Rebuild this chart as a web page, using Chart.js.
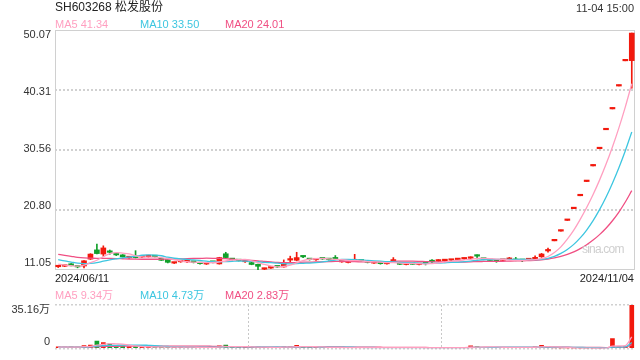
<!DOCTYPE html>
<html>
<head>
<meta charset="utf-8">
<script src="https://cdn.jsdelivr.net/npm/chart.js@4.4.1/dist/chart.umd.min.js"></script>
<style>
  body { margin: 0; width: 640px; height: 360px; background: #fff; position: relative; overflow: hidden;
         font-family: "Liberation Sans", Arial, "Noto Sans CJK SC", sans-serif; color: #222; }
  .t { position: absolute; white-space: nowrap; line-height: 15px; }
  #mainBox { position: absolute; left: 0; top: 0; width: 640px; height: 285px; }
  #volBox { position: absolute; left: 0; top: 285px; width: 640px; height: 75px; }
</style>
</head>
<body>
<div id="mainBox"><canvas id="mainChart"></canvas></div>
<div id="volBox"><canvas id="volChart"></canvas></div>

<div class="t" style="left:55px;top:0px;font-size:12px;color:#222">SH603268 松发股份</div>
<div class="t" style="right:6px;top:1px;font-size:11px;color:#333">11-04 15:00</div>
<div class="t" style="left:55px;top:17px;font-size:11px;color:#ff9fc0">MA5 41.34</div>
<div class="t" style="left:140px;top:17px;font-size:11px;color:#3dc6e0">MA10 33.50</div>
<div class="t" style="left:225px;top:17px;font-size:11px;color:#f04f83">MA20 24.01</div>
<div class="t" style="left:582px;top:242px;font-size:12px;letter-spacing:-0.8px;color:#cfcfcf">sina.com</div>
<div class="t" style="left:55px;top:271px;font-size:11px;color:#222">2024/06/11</div>
<div class="t" style="right:6px;top:271px;font-size:11px;color:#222">2024/11/04</div>
<div class="t" style="left:55px;top:288px;font-size:11px;color:#ff9fc0">MA5 9.34万</div>
<div class="t" style="left:140px;top:288px;font-size:11px;color:#3dc6e0">MA10 4.73万</div>
<div class="t" style="left:225px;top:288px;font-size:11px;color:#f04f83">MA20 2.83万</div>

<script>
// trading days (suspended 09/26 - 10/14)
const dates = [
  "2024/06/11","2024/06/12","2024/06/13","2024/06/14","2024/06/17","2024/06/18","2024/06/19","2024/06/20","2024/06/21","2024/06/24",
  "2024/06/25","2024/06/26","2024/06/27","2024/06/28","2024/07/01","2024/07/02","2024/07/03","2024/07/04","2024/07/05","2024/07/08",
  "2024/07/09","2024/07/10","2024/07/11","2024/07/12","2024/07/15","2024/07/16","2024/07/17","2024/07/18","2024/07/19","2024/07/22",
  "2024/07/23","2024/07/24","2024/07/25","2024/07/26","2024/07/29","2024/07/30","2024/07/31","2024/08/01","2024/08/02","2024/08/05",
  "2024/08/06","2024/08/07","2024/08/08","2024/08/09","2024/08/12","2024/08/13","2024/08/14","2024/08/15","2024/08/16","2024/08/19",
  "2024/08/20","2024/08/21","2024/08/22","2024/08/23","2024/08/26","2024/08/27","2024/08/28","2024/08/29","2024/08/30","2024/09/02",
  "2024/09/03","2024/09/04","2024/09/05","2024/09/06","2024/09/09","2024/09/10","2024/09/11","2024/09/12","2024/09/13","2024/09/18",
  "2024/09/19","2024/09/20","2024/09/23","2024/09/24","2024/09/25","2024/10/15","2024/10/16","2024/10/17","2024/10/18","2024/10/21",
  "2024/10/22","2024/10/23","2024/10/24","2024/10/25","2024/10/28","2024/10/29","2024/10/30","2024/10/31","2024/11/01","2024/11/04"
];

const opens = [
  11.58,11.66,12.06,11.58,11.70,12.82,14.32,13.64,13.97,13.55,
  13.51,13.05,13.10,13.15,13.22,13.25,12.95,12.74,12.17,12.38,
  12.38,12.33,12.14,12.02,12.33,12.04,13.69,12.76,12.60,12.39,
  12.25,11.98,11.18,11.36,11.58,11.55,12.66,12.63,13.21,12.77,
  12.71,12.88,12.75,12.88,12.37,12.27,12.55,12.56,12.34,12.17,
  12.12,12.06,12.50,12.20,11.94,12.09,11.94,12.40,12.41,12.50,
  12.57,12.64,12.74,12.85,12.95,13.48,12.82,12.81,12.71,12.62,
  12.77,12.75,12.62,12.72,12.87,13.20,14.15,15.79,17.37,19.11,
  21.02,23.12,25.43,27.97,30.77,33.85,37.24,40.96,45.06,45.09
];
const highs = [
  11.75,11.85,12.10,11.65,12.60,13.70,15.26,14.98,14.30,13.70,
  13.55,13.20,14.19,13.30,13.35,13.35,13.00,12.78,12.30,12.50,
  12.60,12.40,12.20,12.15,12.40,13.12,13.93,12.90,12.70,12.50,
  12.30,12.02,11.35,11.50,11.65,12.69,13.30,13.93,13.35,12.90,
  12.85,12.95,12.85,13.40,12.50,12.40,13.60,12.65,12.40,12.30,
  12.20,12.18,13.07,12.25,12.05,12.12,12.05,12.45,12.74,12.74,
  12.72,12.75,12.85,13.00,13.20,13.50,12.90,12.85,12.75,12.75,
  13.10,13.10,12.70,12.85,13.35,13.75,14.60,15.79,17.37,19.11,
  21.02,23.12,25.43,27.97,30.77,33.85,37.24,40.96,45.06,49.57
];
const lows = [
  11.45,11.60,11.70,11.40,11.40,12.75,13.65,13.30,13.60,13.40,
  13.15,12.95,13.00,13.05,13.10,13.15,12.60,12.20,12.10,12.30,
  12.25,12.20,12.00,11.95,12.20,12.00,13.00,12.65,12.50,12.30,
  11.90,11.12,11.10,11.30,11.45,11.50,12.30,12.55,13.05,12.65,
  12.60,12.75,12.65,12.75,12.30,12.20,12.45,12.45,12.20,12.10,
  12.00,12.00,12.40,11.92,11.88,11.92,11.88,11.87,12.09,12.45,
  12.50,12.55,12.65,12.75,12.85,12.85,12.70,12.55,12.30,12.55,
  12.70,12.55,12.40,12.65,12.85,13.10,13.95,15.79,17.37,19.11,
  21.02,23.12,25.43,27.97,30.77,33.85,37.24,40.96,45.06,40.60
];
const closes = [
  11.62,11.70,11.74,11.55,12.55,13.64,13.72,14.64,13.92,13.50,
  13.18,13.08,13.06,13.18,13.24,13.22,12.63,12.30,12.20,12.41,
  12.42,12.30,12.08,12.05,12.30,13.07,13.07,12.74,12.57,12.41,
  11.95,11.65,11.22,11.39,11.55,12.30,12.70,13.07,13.18,12.74,
  12.75,12.85,12.74,12.85,12.40,12.30,12.58,12.52,12.30,12.20,
  12.08,12.09,12.53,11.97,11.97,11.97,11.97,12.20,12.40,12.53,
  12.62,12.66,12.76,12.88,12.98,13.30,12.80,12.59,12.50,12.65,
  12.80,12.60,12.60,12.75,12.90,13.65,14.35,15.79,17.37,19.11,
  21.02,23.12,25.43,27.97,30.77,33.85,37.24,40.96,45.06,49.57
];
// volume, 万
const volumes = [
  1.2,1.0,1.3,1.0,2.3,2.6,5.9,4.7,3.8,1.5,
  1.8,1.2,1.6,1.0,0.9,0.8,1.3,1.5,0.9,0.8,
  0.9,0.8,0.9,0.7,0.8,2.0,2.6,1.2,0.9,0.8,
  1.0,1.3,0.8,0.7,0.7,1.5,1.3,2.4,1.2,0.9,
  0.8,0.7,0.6,0.8,0.7,0.6,0.9,0.7,0.7,0.6,
  0.6,0.6,0.8,0.7,0.5,0.6,0.5,0.7,0.6,0.6,
  0.7,0.6,0.6,0.8,2.0,1.4,0.8,0.8,0.9,0.7,
  0.9,0.9,0.8,0.8,1.2,2.4,1.6,0.3,0.2,0.2,
  0.15,0.1,0.12,0.1,0.15,0.9,8.0,1.2,1.4,35.16
];
// the 19 sessions before 06/11, used only to warm up the moving averages
const preCloses = [15.0,14.9,14.8,14.6,14.5,14.4,14.3,14.2,14.0,13.9,13.8,13.6,13.5,13.3,13.2,12.5,12.2,11.9,11.8];
const preVolumes = [1.4,1.2,1.1,1.3,1.0,0.9,1.2,1.0,0.9,1.1,1.0,0.8,0.9,1.1,0.9,0.8,1.0,0.9,0.8];

const priceTicks = [11.05, 20.80, 30.56, 40.31, 50.07];
const volTicks = [0, 35.16];

const RED = "#f2190d";
const GREEN = "#11a02b";
const MA5_COLOR = "#ff9fc0";
const MA10_COLOR = "#3dc6e0";
const MA20_COLOR = "#f04f83";
const FONT = "'Liberation Sans', Arial, 'Noto Sans CJK SC', sans-serif";

// moving average over pre + series
const movingAvg = (series, pre, n) => {
  const all = pre.concat(series);
  return series.map((_, i) => {
    const end = i + pre.length;
    const win = all.slice(end - n + 1, end + 1);
    return win.reduce((a, b) => a + b, 0) / win.length;
  });
};

// label axis range so that the labels sit a little inside the frame
const labelRange = (min, max, areaPx, insetTop, insetBottom) => {
  const upp = (max - min) / (areaPx - insetTop - insetBottom);
  return { min: min - insetBottom * upp, max: max + insetTop * upp };
};

const colors = closes.map((c, i) => (c >= opens[i] ? RED : GREEN));

const maLine = (label, data, color) => ({
  type: "line", label, data, yAxisID: "y", borderColor: color, borderWidth: 1.3,
  pointRadius: 0, cubicInterpolationMode: "monotone", order: 0,
});

const setTicks = (values) => (scale) => {
  scale.ticks = values.map((v) => ({ value: v }));
};

// frame round the price area and dotted lines at the inner ticks
const framePlugin = {
  id: "frame",
  beforeDatasetsDraw(chart) {
    const { ctx, chartArea: a, scales } = chart;
    ctx.save();
    ctx.strokeStyle = "#c2c2c2";
    ctx.lineWidth = 1.5;
    ctx.setLineDash([2, 2]);
    priceTicks.slice(1, -1).forEach((v) => {
      const y = Math.round(scales.y.getPixelForValue(v));
      ctx.beginPath();
      ctx.moveTo(a.left, y);
      ctx.lineTo(a.right, y);
      ctx.stroke();
    });
    ctx.setLineDash([]);
    ctx.lineWidth = 1;
    ctx.strokeStyle = "#d0d0d0";
    ctx.strokeRect(Math.round(a.left) + 0.5, Math.round(a.top) + 0.5,
      Math.round(a.right - a.left) - 1, Math.round(a.bottom - a.top) - 1);
    ctx.restore();
  },
};

// price chart
const priceLabels = labelRange(11.05, 50.07, 240, 4.5, 6.6);
new Chart(document.getElementById("mainChart"), {
  type: "bar",
  data: {
    labels: dates,
    datasets: [
      maLine("MA5", movingAvg(closes, preCloses, 5), MA5_COLOR),
      maLine("MA10", movingAvg(closes, preCloses, 10), MA10_COLOR),
      maLine("MA20", movingAvg(closes, preCloses, 20), MA20_COLOR),
      {
        label: "body", data: dates.map((_, i) => [opens[i], closes[i]]), yAxisID: "y",
        backgroundColor: colors, barThickness: 5, minBarLength: 1.5, grouped: false, order: 1,
      },
      {
        label: "wick", data: dates.map((_, i) => [lows[i], highs[i]]), yAxisID: "y",
        backgroundColor: colors, barThickness: 1, minBarLength: 1, grouped: false, order: 2,
      },
    ],
  },
  options: {
    responsive: true,
    maintainAspectRatio: false,
    animation: false,
    layout: { padding: { top: 30, right: 5, bottom: 15, left: 0 } },
    plugins: { legend: { display: false }, tooltip: { enabled: false } },
    scales: {
      x: { display: false, offset: true, grid: { display: false } },
      y: {
        position: "left", min: 11.05, max: 50.07,
        afterBuildTicks: setTicks(priceTicks),
        afterFit: (s) => { s.width = 0; },
        ticks: { display: false },
        grid: { display: false, drawTicks: false },
        border: { display: false },
      },
      yl: {
        position: "left", min: priceLabels.min, max: priceLabels.max,
        afterBuildTicks: setTicks(priceTicks),
        afterFit: (s) => { s.width = 55; },
        ticks: { color: "#333", padding: 4, font: { size: 11, family: FONT }, callback: (v) => v.toFixed(2) },
        grid: { display: false, drawTicks: false },
        border: { display: false },
      },
    },
  },
  plugins: [framePlugin],
});

// volume chart
const volLabels = labelRange(0, 35.16, 50, 6, 7);
new Chart(document.getElementById("volChart"), {
  type: "bar",
  data: {
    labels: dates,
    datasets: [
      maLine("MA5", movingAvg(volumes, preVolumes, 5), MA5_COLOR),
      maLine("MA10", movingAvg(volumes, preVolumes, 10), MA10_COLOR),
      maLine("MA20", movingAvg(volumes, preVolumes, 20), MA20_COLOR),
      { label: "vol", data: volumes, yAxisID: "y", backgroundColor: colors, barThickness: 4, order: 1 },
    ],
  },
  options: {
    responsive: true,
    maintainAspectRatio: false,
    animation: false,
    layout: { padding: { top: 20, right: 5, bottom: 5, left: 0 } },
    plugins: { legend: { display: false }, tooltip: { enabled: false } },
    scales: {
      x: {
        offset: true,
        afterFit: (s) => { s.height = 0; },
        ticks: { display: false, autoSkip: false },
        grid: {
          offset: true, drawTicks: false,
          color: (c) => (c.index === 30 || c.index === 60 ? "#c8c8c8" : "rgba(0,0,0,0)"),
        },
        border: { display: false, dash: [2, 2] },
      },
      y: {
        position: "left", min: 0, max: 35.16,
        afterBuildTicks: setTicks(volTicks),
        afterFit: (s) => { s.width = 0; },
        ticks: { display: false },
        grid: { drawTicks: false, color: "#d0d0d0", lineWidth: 1.5 },
        border: { display: false, dash: [2, 2] },
      },
      yl: {
        position: "left", min: volLabels.min, max: volLabels.max,
        afterBuildTicks: setTicks(volTicks),
        afterFit: (s) => { s.width = 55; },
        ticks: {
          color: "#333", padding: 5, font: { size: 11, family: FONT },
          callback: (v) => (v === 0 ? "0" : v.toFixed(2) + "万"),
        },
        grid: { display: false, drawTicks: false },
        border: { display: false },
      },
    },
  },
});
</script>
</body>
</html>
